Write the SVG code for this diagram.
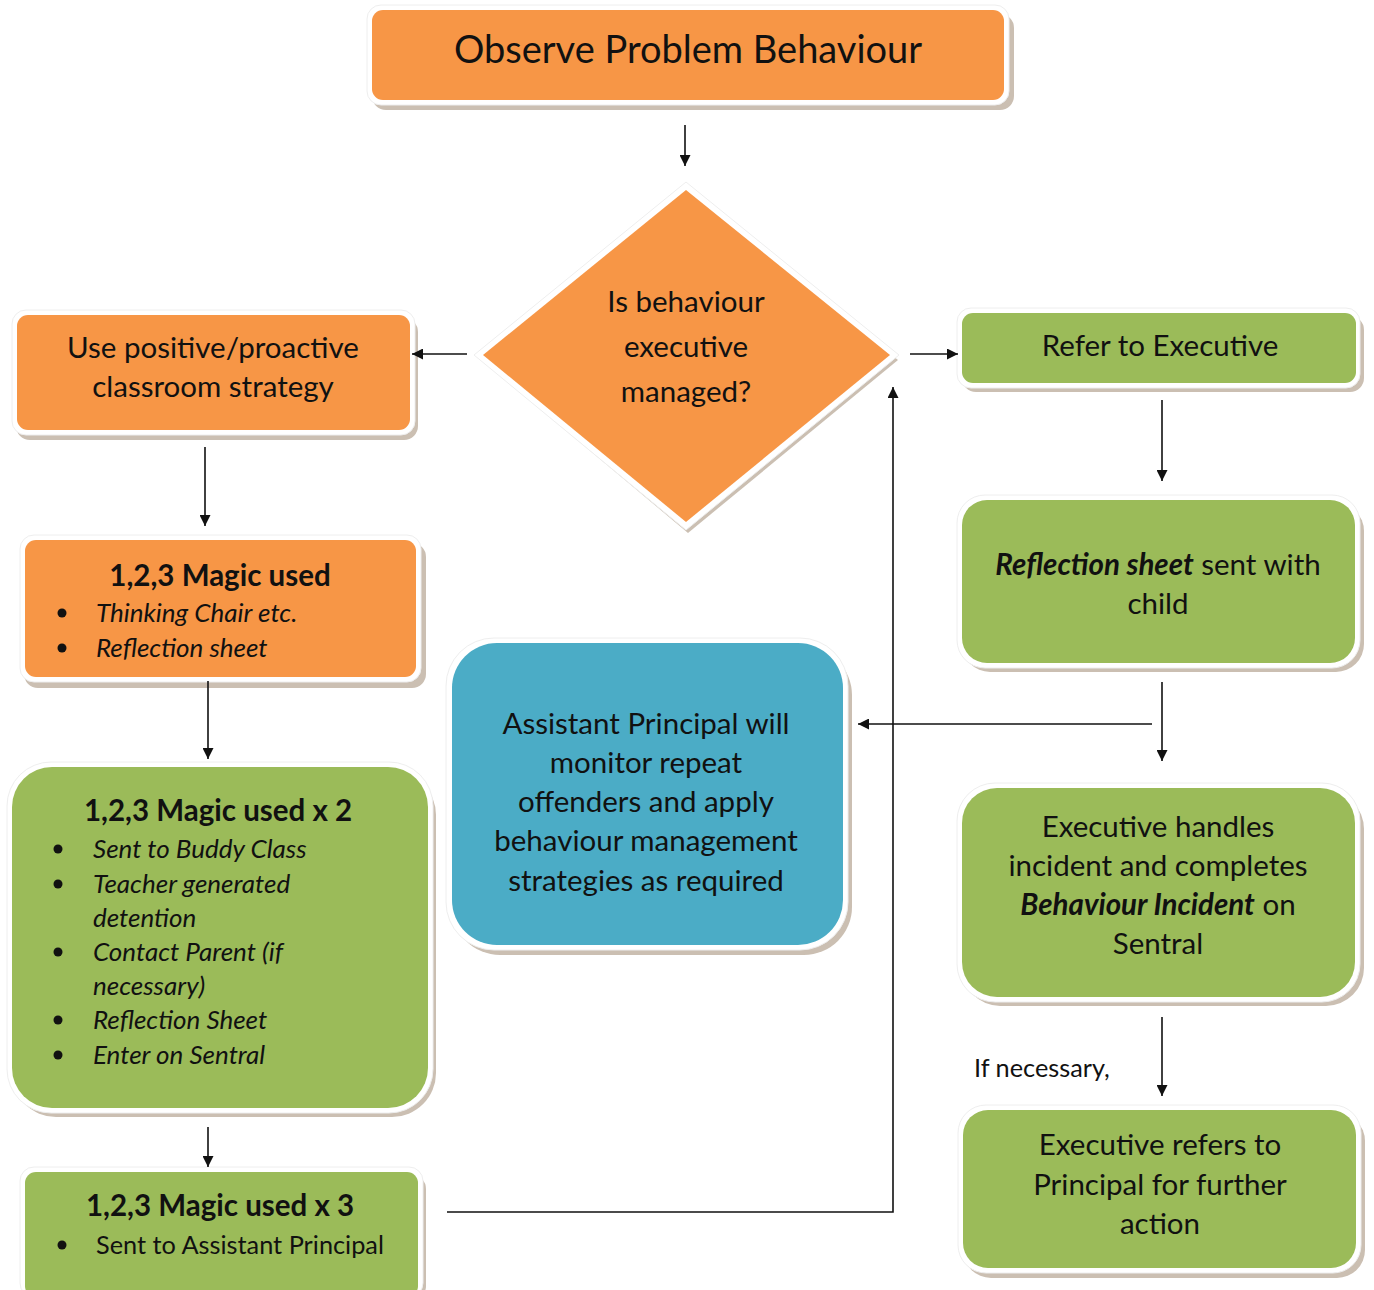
<svg xmlns="http://www.w3.org/2000/svg" width="1374" height="1290" viewBox="0 0 1374 1290">
<defs>
<style>
.sh{fill:#cbbfb2}
.wb{fill:#ffffff;stroke:#eeeeee;stroke-width:1}
.or{fill:#F79646}
.gr{fill:#9BBB59}
.bl{fill:#4BACC6}
text{font-family:Lato,"Open Sans","Liberation Sans",sans-serif;fill:#111;font-size:29.5px}
.c{text-anchor:middle}
.b{font-weight:bold}
.i{font-style:italic}
.big{font-size:38px}
.sm{font-size:26px}
.sn{font-size:25.3px}
.ln{stroke:#111;stroke-width:1.6;fill:none}
</style>
<marker id="ah" viewBox="0 0 10 10" refX="10" refY="5" markerWidth="11" markerHeight="11" markerUnits="userSpaceOnUse" orient="auto">
<path d="M0,0 L10,5 L0,10 z" fill="#111"/>
</marker>
</defs>

<g id="n-observe">
<rect class="sh" x="372" y="14" width="642" height="96" rx="14"/>
<rect class="wb" x="367" y="5" width="642" height="100" rx="14"/>
<rect class="or" x="372" y="10" width="632" height="90" rx="11"/>
<text class="c big" x="688" y="63">Observe Problem Behaviour</text>
</g>

<g id="n-decision">
<polygon class="sh" points="688,194 898,360 688,533 482,360"/>
<polygon class="wb" points="686,182 899,355 686,530 474,355"/>
<polygon class="or" points="686,190 890,355 686,522 483,355"/>
<text class="c" x="686" y="312">Is behaviour</text>
<text class="c" x="686" y="357">executive</text>
<text class="c" x="686" y="402">managed?</text>
</g>

<g id="n-positive">
<rect class="sh" x="16" y="318" width="402" height="122" rx="14"/>
<rect class="wb" x="12" y="310" width="403" height="125" rx="14"/>
<rect class="or" x="17" y="315" width="393" height="115" rx="11"/>
<text class="c" x="213" y="358">Use positive/proactive</text>
<text class="c" x="213" y="397">classroom strategy</text>
</g>

<g id="n-magic1">
<rect class="sh" x="24" y="543" width="402" height="145" rx="14"/>
<rect class="wb" x="20" y="535" width="401" height="147" rx="14"/>
<rect class="or" x="25" y="540" width="391" height="137" rx="11"/>
<text class="c b" x="220" y="586">1,2,3 Magic used</text>
<circle cx="62" cy="613" r="4.5" fill="#111"/>
<circle cx="62" cy="648" r="4.5" fill="#111"/>
<text class="i sm" x="96" y="622">Thinking Chair etc.</text>
<text class="i sm" x="96" y="657">Reflection sheet</text>
</g>

<g id="n-magic2">
<rect class="sh" x="12" y="771" width="424" height="346" rx="44"/>
<rect class="wb" x="7" y="762" width="426" height="351" rx="44"/>
<rect class="gr" x="12" y="767" width="416" height="341" rx="40"/>
<text class="c b" x="218" y="821">1,2,3 Magic used x 2</text>
<circle cx="58" cy="849" r="4.5" fill="#111"/>
<circle cx="58" cy="884" r="4.5" fill="#111"/>
<circle cx="58" cy="952" r="4.5" fill="#111"/>
<circle cx="58" cy="1020" r="4.5" fill="#111"/>
<circle cx="58" cy="1055" r="4.5" fill="#111"/>
<text class="i sm" x="93" y="858">Sent to Buddy Class</text>
<text class="i sm" x="93" y="893">Teacher generated</text>
<text class="i sm" x="93" y="927">detention</text>
<text class="i sm" x="93" y="961">Contact Parent (if</text>
<text class="i sm" x="93" y="995">necessary)</text>
<text class="i sm" x="93" y="1029">Reflection Sheet</text>
<text class="i sm" x="93" y="1064">Enter on Sentral</text>
</g>

<g id="n-magic3">
<rect class="sh" x="24" y="1175" width="402" height="125" rx="14"/>
<rect class="wb" x="20" y="1167" width="403" height="130" rx="14"/>
<rect class="gr" x="25" y="1172" width="393" height="125" rx="11"/>
<text class="c b" x="220" y="1216">1,2,3 Magic used x 3</text>
<circle cx="62" cy="1245" r="4.5" fill="#111"/>
<text class="sn" x="96" y="1254">Sent to Assistant Principal</text>
</g>

<g id="n-ap">
<rect class="sh" x="452" y="647" width="400" height="308" rx="48"/>
<rect class="wb" x="446" y="638" width="402" height="312" rx="48"/>
<rect class="bl" x="452" y="643" width="391" height="302" rx="45"/>
<text class="c" x="646" y="734">Assistant Principal will</text>
<text class="c" x="646" y="773">monitor repeat</text>
<text class="c" x="646" y="812">offenders and apply</text>
<text class="c" x="646" y="851">behaviour management</text>
<text class="c" x="646" y="891">strategies as required</text>
</g>

<g id="n-refer">
<rect class="sh" x="962" y="316" width="402" height="76" rx="14"/>
<rect class="wb" x="957" y="308" width="403" height="80" rx="14"/>
<rect class="gr" x="962" y="313" width="394" height="70" rx="11"/>
<text class="c" x="1160" y="356">Refer to Executive</text>
</g>

<g id="n-reflection">
<rect class="sh" x="962" y="503" width="402" height="169" rx="28"/>
<rect class="wb" x="957" y="495" width="403" height="173" rx="28"/>
<rect class="gr" x="962" y="500" width="393" height="163" rx="25"/>
<text class="c" x="1158" y="575"><tspan class="b i">Reflection sheet</tspan> sent with</text>
<text class="c" x="1158" y="614">child</text>
</g>

<g id="n-handles">
<rect class="sh" x="962" y="791" width="402" height="215" rx="38"/>
<rect class="wb" x="957" y="783" width="403" height="219" rx="38"/>
<rect class="gr" x="962" y="788" width="393" height="209" rx="35"/>
<text class="c" x="1158" y="837">Executive handles</text>
<text class="c" x="1158" y="876">incident and completes</text>
<text class="c" x="1158" y="915"><tspan class="b i">Behaviour Incident</tspan> on</text>
<text class="c" x="1158" y="954">Sentral</text>
</g>

<g id="n-principal">
<rect class="sh" x="963" y="1113" width="402" height="165" rx="28"/>
<rect class="wb" x="958" y="1105" width="403" height="168" rx="28"/>
<rect class="gr" x="963" y="1110" width="393" height="158" rx="25"/>
<text class="c" x="1160" y="1155">Executive refers to</text>
<text class="c" x="1160" y="1195">Principal for further</text>
<text class="c" x="1160" y="1234">action</text>
</g>

<g id="connectors">
<line class="ln" x1="685" y1="125" x2="685" y2="166" marker-end="url(#ah)"/>
<line class="ln" x1="467" y1="354" x2="412" y2="354" marker-end="url(#ah)"/>
<line class="ln" x1="910" y1="354" x2="958" y2="354" marker-end="url(#ah)"/>
<line class="ln" x1="205" y1="447" x2="205" y2="526" marker-end="url(#ah)"/>
<line class="ln" x1="208" y1="681" x2="208" y2="759" marker-end="url(#ah)"/>
<line class="ln" x1="208" y1="1127" x2="208" y2="1167" marker-end="url(#ah)"/>
<polyline class="ln" points="447,1212 893,1212 893,387" marker-end="url(#ah)"/>
<line class="ln" x1="1162" y1="400" x2="1162" y2="481" marker-end="url(#ah)"/>
<line class="ln" x1="1162" y1="682" x2="1162" y2="761" marker-end="url(#ah)"/>
<line class="ln" x1="1152" y1="724" x2="858" y2="724" marker-end="url(#ah)"/>
<line class="ln" x1="1162" y1="1017" x2="1162" y2="1096" marker-end="url(#ah)"/>
<text class="sn" x="974" y="1077">If necessary,</text>
</g>
</svg>
